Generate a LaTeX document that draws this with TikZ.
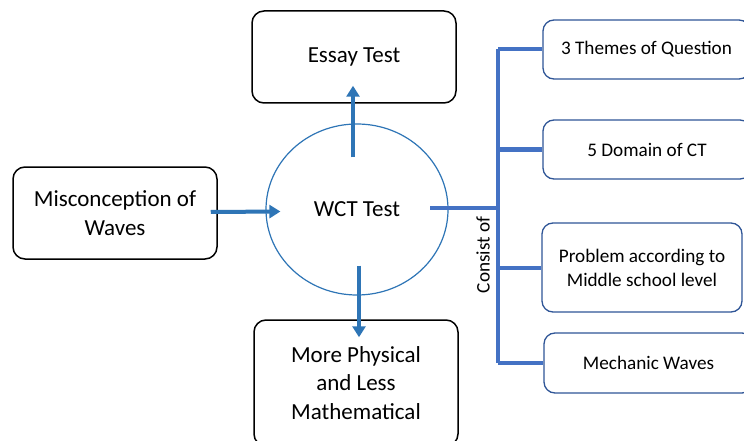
\documentclass[tikz,border=0pt]{standalone}
\usepackage{fontspec}
\setmainfont{Carlito}
\usetikzlibrary{arrows.meta,shapes.geometric,calc}
\definecolor{arrblue}{RGB}{46,117,182}
\definecolor{brblue}{RGB}{68,114,196}
\definecolor{boxblue}{RGB}{47,85,151}
\tikzset{
  blackbox/.style={draw=black,line width=1.5pt,rounded corners=12pt,align=center,
    font=\fontsize{23}{28.5}\selectfont,inner sep=0pt},
  bluebox/.style={draw=boxblue,line width=1.3pt,rounded corners=11pt,align=center,
    font=\fontsize{19.2}{24}\selectfont,inner sep=0pt},
  arr/.style={draw=arrblue,line width=4pt,-{Triangle[length=11pt,width=13pt]}},
  brline/.style={draw=brblue,line width=4pt},
}
\begin{document}
\begin{tikzpicture}[x=1pt,y=-1pt]
\useasboundingbox (0,0) rectangle (744,441);
\clip (0,0) rectangle (744,441);
\fill[white] (0,0) rectangle (744,441);
% left and top/bottom boxes
\node[blackbox,minimum width=204pt,minimum height=92pt] (mis) at (115,213) {Misconception of\\Waves};
\node[blackbox,minimum width=204pt,minimum height=92pt] (ess) at (354,57) {Essay Test};
\node[blackbox,minimum width=204pt,minimum height=126pt,text depth=0pt] (phy) at (356,383) {More Physical\\and Less\\Mathematical};
% central ellipse
\node[ellipse,draw=arrblue,line width=1.2pt,minimum width=182pt,minimum height=171pt,
  font=\fontsize{23}{28}\selectfont,inner sep=0pt] (wct) at (357,209.5) {WCT Test};
% right boxes
\node[bluebox,minimum width=207pt,minimum height=59pt] (thm) at (646.5,49.5) {3 Themes of Question};
\node[bluebox,minimum width=208pt,minimum height=59pt] (dom) at (647,149.5) {5 Domain of CT};
\node[bluebox,minimum width=200pt,minimum height=89pt] (prb) at (642,267.5) {Problem according to\\Middle school level};
\node[bluebox,minimum width=209pt,minimum height=60pt] (mec) at (648.5,363) {Mechanic Waves};
% bracket
\coordinate (bx) at (498,0);
\coordinate (cs) at (430,208);
\draw[brline] (cs) -- (cs -| bx);
\draw[brline] (thm.west -| bx) -- (mec.west -| bx);
\draw[brline] (thm.west -| bx) -- (thm.west);
\draw[brline] (dom.west -| bx) -- (dom.west);
\draw[brline] (prb.west -| bx) -- (prb.west);
\draw[brline] (mec.west -| bx) -- (mec.west);
\node[rotate=90,font=\fontsize{19.2}{22}\selectfont,inner sep=0pt] (con) at (483,255) {Consist of};
% arrows
\draw[arr] ([xshift=-4pt,yshift=-34pt]wct.north) -- ([xshift=-1pt,yshift=18pt]ess.south);
\draw[arr] ([xshift=2pt,yshift=30pt]wct.south) -- ([xshift=3pt,yshift=-18pt]phy.north);
\draw[arr] ([xshift=-7pt,yshift=1pt]mis.east) -- ([xshift=15pt,yshift=-2pt]wct.west);
\end{tikzpicture}
\end{document}
